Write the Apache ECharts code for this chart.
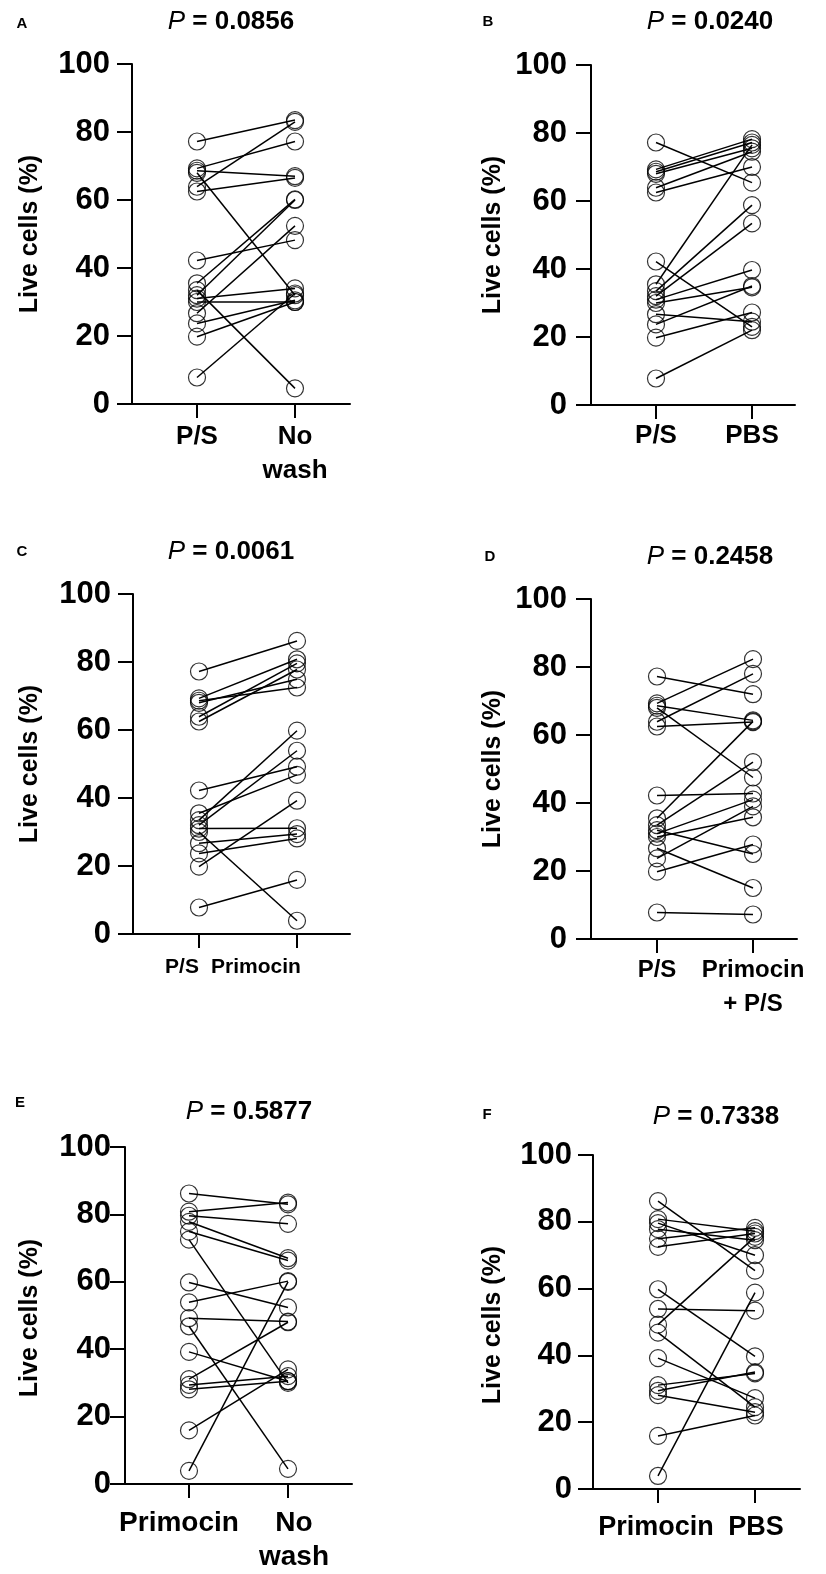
<!DOCTYPE html>
<html><head><meta charset="utf-8">
<script src="https://cdn.jsdelivr.net/npm/echarts@6/dist/echarts.min.js"></script>
<style>html,body{margin:0;padding:0;background:#fff}#c{width:826px;height:1574px}</style>
</head><body><div id="c"></div>
<script>
// ---- data ----
const yTicks = [0, 20, 40, 60, 80, 100];
const psValues        = [77.2, 69.3, 68.6, 68.0, 63.9, 62.5, 42.2, 35.5, 33.5, 32.0, 31.0, 30.0, 26.7, 23.7, 19.8, 7.8];
const noWashVsPS      = [83.5, 77.2, 67.0, 32.0, 83.0, 66.5, 48.2, 60.2, 4.6, 60.0, 34.0, 30.0, 52.4, 30.5, 30.0, 32.5];
const pbsVsPS         = [65.4, 78.2, 77.2, 75.5, 74.5, 70.0, 23.0, 76.5, 58.8, 53.4, 39.7, 34.6, 24.5, 35.0, 27.2, 22.0];
const primocinVsPS    = [86.2, 80.8, 72.5, 74.9, 79.6, 77.8, 49.2, 46.8, 59.8, 53.9, 31.1, 3.9, 29.4, 28.1, 39.2, 15.9];
const primPSVsPS      = [72.0, 82.3, 64.3, 47.5, 78.0, 63.8, 42.8, 64.0, 52.0, 25.0, 41.0, 35.8, 15.0, 39.0, 27.8, 7.2];
const primocinValues  = [86.2, 80.8, 79.6, 77.8, 74.9, 72.5, 59.8, 53.9, 49.2, 46.8, 39.2, 31.1, 29.4, 28.1, 15.9, 3.9];
const noWashVsPrim    = [83.0, 83.5, 77.2, 67.0, 66.3, 30.0, 52.4, 60.2, 48.2, 4.5, 30.5, 48.0, 32.0, 30.5, 34.0, 60.0];
const pbsVsPrim       = [65.4, 77.2, 70.0, 74.5, 78.2, 76.5, 39.7, 53.4, 75.5, 24.5, 27.2, 34.6, 35.0, 23.0, 22.0, 58.8];

const panelLetters = ['A', 'B', 'C', 'D', 'E', 'F'];
const pValues = ['0.0856', '0.0240', '0.0061', '0.2458', '0.5877', '0.7338'];
const groupLabels = [
  ['P/S', 'No\nwash'],
  ['P/S', 'PBS'],
  ['P/S', 'Primocin'],
  ['P/S', 'Primocin\n+ P/S'],
  ['Primocin', 'No\nwash'],
  ['Primocin', 'PBS']
];
const yAxisTitle = 'Live cells (%)';
const pairs = [
  [psValues, noWashVsPS],
  [psValues, pbsVsPS],
  [psValues, primocinVsPS],
  [psValues, primPSVsPS],
  [primocinValues, noWashVsPrim],
  [primocinValues, pbsVsPrim]
];

// ---- layout ----
const FONT = '"Liberation Sans", Arial, sans-serif';
const layout = [
  {ax:132, c1:197, c2:295, right:350, top:64,   bottom:404,  ylm:22, xlm:16, xf:26, lc:[197,295], tx:231, ty:22,   lx:22,  ly:24,   nx:30,  ny:234},
  {ax:591, c1:656, c2:752, right:795, top:65,   bottom:405,  ylm:24, xlm:14, xf:26, lc:[656,752], tx:710, ty:22,   lx:488, ly:22,   nx:493, ny:235},
  {ax:133, c1:199, c2:297, right:350, top:594,  bottom:934,  ylm:22, xlm:16, xf:21, lc:[182,256], tx:231, ty:552,  lx:22,  ly:552,  nx:30,  ny:764},
  {ax:591, c1:657, c2:753, right:797, top:599,  bottom:939,  ylm:24, xlm:14, xf:24, lc:[657,753], tx:710, ty:557,  lx:490, ly:557,  nx:493, ny:769},
  {ax:125, c1:189, c2:288, right:352, top:1147, bottom:1488, ylm:14, xlm:22, xf:28, lc:[179,294], tx:249, ty:1112, lx:20,  ly:1103, nx:30,  ny:1318},
  {ax:593, c1:658, c2:755, right:800, top:1155, bottom:1489, ylm:21, xlm:22, xf:27, lc:[656,756], tx:716, ty:1117, lx:487, ly:1115, nx:493, ny:1325}
];

const grids = [], xAxes = [], yAxes = [], series = [], graphics = [];
layout.forEach((L, k) => {
  const sp = L.c2 - L.c1;
  const toVal = px => 1 + (px - L.c1) / sp;
  grids.push({left: L.ax, top: L.top, width: L.right - L.ax, height: L.bottom - L.top, containLabel: false});
  const labs = groupLabels[k];
  const labVals = [toVal(L.lc[0]), toVal(L.lc[1])];
  const mid = (labVals[0] + labVals[1]) / 2;
  xAxes.push({
    type: 'value', gridIndex: k,
    min: toVal(L.ax), max: toVal(L.right),
    axisLine: {show: true, onZero: false, lineStyle: {color: '#000', width: 2}},
    axisTick: {show: true, customValues: [1, 2], length: 14, lineStyle: {color: '#000', width: 2}},
    axisLabel: {
      show: true, customValues: labVals, margin: L.xlm, hideOverlap: false,
      showMinLabel: true, showMaxLabel: true,
      fontFamily: FONT, fontWeight: 'bold', fontSize: L.xf, lineHeight: 34, color: '#000',
      formatter: v => (v < mid ? labs[0] : labs[1])
    },
    splitLine: {show: false}
  });
  yAxes.push({
    type: 'value', gridIndex: k, min: yTicks[0], max: yTicks[yTicks.length - 1], interval: 20,
    axisLine: {show: true, onZero: false, lineStyle: {color: '#000', width: 2}},
    axisTick: {show: true, length: 15, lineStyle: {color: '#000', width: 2}},
    axisLabel: {margin: L.ylm, fontFamily: FONT, fontWeight: 'bold', fontSize: 31, color: '#000'},
    splitLine: {show: false}
  });
  const [left, right] = pairs[k];
  left.forEach((v, i) => {
    series.push({
      type: 'line', xAxisIndex: k, yAxisIndex: k, silent: true, animation: false,
      symbol: 'none', z: 2,
      lineStyle: {color: '#000', width: 1.5},
      data: [[1, v], [2, right[i]]]
    });
  });
  series.push({
    type: 'scatter', xAxisIndex: k, yAxisIndex: k, silent: true, animation: false, z: 3,
    symbol: 'circle', symbolSize: 17,
    itemStyle: {color: 'rgba(0,0,0,0)', borderColor: '#000', borderWidth: 1.2},
    data: left.map(v => [1, v]).concat(right.map(v => [2, v]))
  });
  graphics.push({
    type: 'text', x: L.tx, y: L.ty, silent: true,
    style: {
      text: '{i|P}{b| = ' + pValues[k] + '}', align: 'center', verticalAlign: 'middle',
      rich: {
        i: {fontFamily: FONT, fontStyle: 'italic', fontWeight: 'normal', fontSize: 26, fill: '#000'},
        b: {fontFamily: FONT, fontWeight: 'bold', fontSize: 26, fill: '#000'}
      }
    }
  });
  graphics.push({
    type: 'text', x: L.lx, y: L.ly, silent: true,
    style: {text: panelLetters[k], align: 'center', verticalAlign: 'middle', fontFamily: FONT, fontWeight: 'bold', fontSize: 15, fill: '#000'}
  });
  graphics.push({
    type: 'text', x: L.nx, y: L.ny, rotation: Math.PI / 2, silent: true,
    style: {text: yAxisTitle, align: 'center', verticalAlign: 'middle', fontFamily: FONT, fontWeight: 'bold', fontSize: 25, fill: '#000'}
  });
});

const chart = echarts.init(document.getElementById('c'), null, {renderer: 'canvas'});
chart.setOption({
  animation: false,
  backgroundColor: '#fff',
  grid: grids, xAxis: xAxes, yAxis: yAxes, series: series, graphic: graphics
});
</script>
</body></html>
